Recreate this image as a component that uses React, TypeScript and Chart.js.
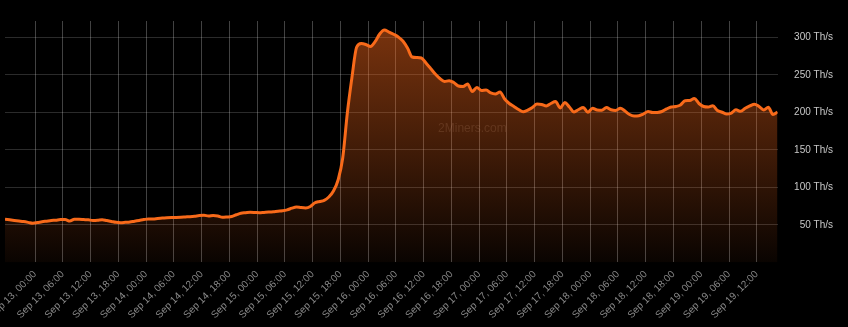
import React, { useEffect, useRef } from 'react';
import { Chart, registerables } from 'chart.js';

Chart.register(...registerables);

// Hours relative to Sep 13, 00:00 (one sample per hour)
const START_HOUR = -6.5;
const STEP_HOURS = 1;

// Pool hashrate, Th/s
const HASHRATE: number[] = [
  57.7, 56.9, 56.1, 55.3, 54.5, 53.5, 52.4, 53.2, 54.3, 55.1,
  55.9, 56.4, 57.2, 57.2, 55.3, 57.5, 57.5, 57.2, 56.9, 56.0,
  56.3, 57.1, 55.9, 54.7, 53.5, 53.1, 53.5, 54.0, 55.1, 56.1,
  57.2, 58.0, 58.0, 58.7, 59.3, 59.7, 60.0, 60.1, 60.3, 60.7,
  61.1, 61.7, 62.5, 62.9, 62.0, 62.7, 62.0, 60.3, 60.7, 61.3,
  63.6, 65.7, 66.3, 66.9, 66.7, 66.4, 66.8, 67.2, 67.7, 68.4,
  68.9, 70.1, 72.4, 74.0, 73.2, 72.8, 74.7, 79.6, 81.3, 82.9,
  87.3, 95.3, 110.0, 139.3, 199.3, 247.0, 287.0, 292.0, 290.7, 288.0,
  294.4, 304.7, 310.0, 307.3, 304.3, 300.7, 295.3, 286.0, 274.0, 273.3,
  272.7, 266.0, 258.7, 251.3, 245.3, 241.3, 242.4, 240.0, 235.3, 234.7,
  238.0, 228.0, 233.3, 229.3, 230.0, 226.0, 224.7, 227.3, 218.0, 212.0,
  208.0, 204.0, 201.0, 203.3, 206.7, 211.3, 210.7, 208.7, 212.0, 214.7,
  206.0, 213.3, 207.3, 200.7, 204.0, 206.7, 200.4, 205.6, 203.3, 203.0,
  206.5, 203.6, 202.7, 205.6, 202.0, 197.3, 195.3, 195.6, 198.0, 201.3,
  199.9, 200.0, 201.3, 204.7, 207.3, 208.0, 210.0, 215.7, 216.0, 218.7,
  212.0, 208.0, 207.3, 209.0, 202.7, 200.3, 198.0, 199.3, 203.6, 201.6,
  205.6, 208.7, 211.1, 208.0, 203.3, 206.9, 197.3, 200.7,
];

const X_MIN = -6.5;
const X_MAX = 160.5;

const TICK_HOURS: number[] = [
  0, 6, 12, 18, 24, 30, 36, 42, 48, 54, 60, 66, 72, 78,
  84, 90, 96, 102, 108, 114, 120, 126, 132, 138, 144, 150, 156,
];
const TICK_LABELS: string[] = [
  'Sep 13, 00:00', 'Sep 13, 06:00', 'Sep 13, 12:00', 'Sep 13, 18:00',
  'Sep 14, 00:00', 'Sep 14, 06:00', 'Sep 14, 12:00', 'Sep 14, 18:00',
  'Sep 15, 00:00', 'Sep 15, 06:00', 'Sep 15, 12:00', 'Sep 15, 18:00',
  'Sep 16, 00:00', 'Sep 16, 06:00', 'Sep 16, 12:00', 'Sep 16, 18:00',
  'Sep 17, 00:00', 'Sep 17, 06:00', 'Sep 17, 12:00', 'Sep 17, 18:00',
  'Sep 18, 00:00', 'Sep 18, 06:00', 'Sep 18, 12:00', 'Sep 18, 18:00',
  'Sep 19, 00:00', 'Sep 19, 06:00', 'Sep 19, 12:00',
];

const Y_TICKS: number[] = [50, 100, 150, 200, 250, 300];
const Y_MIN = 0;
const Y_MAX = 322;
const UNIT = 'Th/s';
const WATERMARK = '2Miners.com';

const FONT = '"Liberation Sans", Arial, Helvetica, sans-serif';

const watermarkPlugin = {
  id: 'watermark',
  afterDatasetsDraw(chart: any) {
    const { ctx, chartArea } = chart;
    const w = chartArea.right - chartArea.left;
    const h = chartArea.bottom - chartArea.top;
    ctx.save();
    ctx.font = `12px ${FONT}`;
    ctx.fillStyle = 'rgba(255, 200, 170, 0.13)';
    ctx.textAlign = 'center';
    ctx.textBaseline = 'middle';
    ctx.fillText(WATERMARK, chartArea.left + w * 0.605, chartArea.top + h * 0.444);
    ctx.restore();
  },
};

export default function App() {
  const canvasRef = useRef<HTMLCanvasElement | null>(null);

  useEffect(() => {
    if (!canvasRef.current) return;
    const points = HASHRATE.map((v, i) => ({ x: START_HOUR + i * STEP_HOURS, y: v }));

    const chart = new Chart(canvasRef.current, {
      type: 'line',
      data: {
        datasets: [
          {
            data: points,
            borderColor: 'rgb(248, 106, 26)',
            borderWidth: 3,
            pointRadius: 0,
            cubicInterpolationMode: 'monotone',
            fill: 'start',
            backgroundColor: (ctx: any) => {
              const area = ctx.chart.chartArea;
              if (!area) return 'rgba(246,104,28,0.3)';
              const g = ctx.chart.ctx.createLinearGradient(0, area.top, 0, area.bottom);
              g.addColorStop(0, 'rgba(246, 104, 28, 0.5)');
              g.addColorStop(0.45, 'rgba(246, 104, 28, 0.3)');
              g.addColorStop(1, 'rgba(246, 104, 28, 0.04)');
              return g;
            },
          },
        ],
      },
      options: {
        animation: false,
        responsive: true,
        maintainAspectRatio: false,
        layout: { padding: { left: 5, top: 21, right: 15, bottom: 0 } },
        plugins: { legend: { display: false }, tooltip: { enabled: false } },
        scales: {
          x: {
            type: 'linear',
            min: X_MIN,
            max: X_MAX,
            offset: false,
            afterBuildTicks: (axis: any) => {
              axis.ticks = TICK_HOURS.map((v) => ({ value: v }));
            },
            afterFit: (axis: any) => {
              axis.paddingLeft = 0;
              axis.paddingRight = 0;
            },
            grid: { color: 'rgba(255,255,255,0.26)', drawTicks: false, lineWidth: 1 },
            border: { display: false },
            ticks: {
              autoSkip: false,
              maxRotation: 45,
              minRotation: 45,
              padding: 6,
              color: '#8a8a8a',
              font: { family: FONT, size: 10 },
              callback: (value: any) => TICK_LABELS[TICK_HOURS.indexOf(Number(value))] ?? '',
            },
          },
          y: {
            position: 'right',
            min: Y_MIN,
            max: Y_MAX,
            afterBuildTicks: (axis: any) => {
              axis.ticks = Y_TICKS.map((v) => ({ value: v }));
            },
            grid: { color: 'rgba(255,255,255,0.17)', drawTicks: false, lineWidth: 1 },
            border: { display: false },
            ticks: {
              padding: 8.25,
              crossAlign: 'far',
              color: '#c8c8c8',
              font: { family: FONT, size: 10 },
              callback: (value: any) => `${value} ${UNIT}`,
            },
          },
        },
      },
      plugins: [watermarkPlugin],
    } as any);

    return () => chart.destroy();
  }, []);

  return (
    <div
      style={{
        position: 'fixed',
        left: 0,
        top: 0,
        width: 848,
        height: 327,
        background: '#000',
      }}
    >
      <canvas ref={canvasRef} />
    </div>
  );
}
